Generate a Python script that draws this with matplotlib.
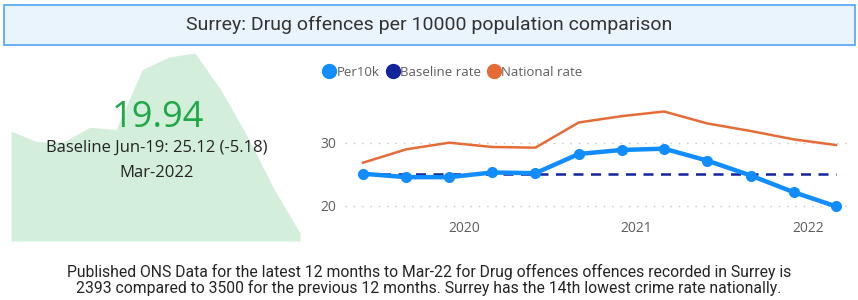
import numpy as np
import pandas as pd
from matplotlib import pyplot as plt
import matplotlib.dates as mdates
from matplotlib.patches import Rectangle
from matplotlib.lines import Line2D

# quarterly figures, Jun-19 .. Mar-22
dates = pd.date_range('2019-06-01', '2022-03-01', freq='3MS')
per10k = [25.12, 24.58, 24.58, 25.32, 25.21, 28.26, 28.89, 29.10, 27.20, 24.84, 22.20, 19.94]
national = [26.87, 29.00, 30.05, 29.37, 29.26, 33.26, 34.26, 35.00, 33.10, 31.90, 30.58, 29.68]
baseline = 25.12
year_ticks = ['2020', '2021', '2022']
y_ticks = [20, 30]

title = 'Surrey: Drug offences per 10000 population comparison'
kpi_value = '19.94'
kpi_sub = 'Baseline Jun-19: 25.12 (-5.18)'
kpi_period = 'Mar-2022'
footer = ('Published ONS Data for the latest 12 months to Mar-22 for Drug offences offences recorded in Surrey is\n'
          '2393 compared to 3500 for the previous 12 months. Surrey has the 14th lowest crime rate nationally.')

c_blue = '#118DFF'
c_navy = '#12239E'
c_orange = '#E66C37'
c_grey = '#605E5C'

W, H = 858, 300
fig = plt.figure(figsize=(W / 100, H / 100), dpi=100)


def box(x0, y0, x1, y1):
    # pixel box (top-left origin) -> figure fraction rect
    return [x0 / W, 1 - y1 / H, (x1 - x0) / W, (y1 - y0) / H]


# title bar
fig.patches.append(Rectangle((4 / W, 1 - 45 / H), 851 / W, 40 / H, transform=fig.transFigure,
                             facecolor='#EAF4FD', edgecolor='#4FA3F7', linewidth=1.2))
fig.text(429 / W, 1 - 25 / H, title, ha='center', va='center', fontsize=14,
         family='Roboto', color='#333333')

# left KPI area
ax_k = fig.add_axes(box(11, 53, 300, 241))
ax_k.fill_between(range(len(per10k)), per10k, 19.53, color='#D3EEDA', linewidth=0)
ax_k.set_xlim(0, len(per10k) - 1)
ax_k.set_ylim(19.53, max(per10k))
ax_k.axis('off')

fig.text(158 / W, 1 - 118 / H, kpi_value, ha='center', va='center', fontsize=26,
         family='Open Sans', color='#1FA845')
fig.text(157 / W, 1 - 148 / H, kpi_sub, ha='center', va='center', fontsize=12,
         family='Open Sans', color='#252423')
fig.text(157 / W, 1 - 173 / H, kpi_period, ha='center', va='center', fontsize=12,
         family='Open Sans', color='#252423')

# right line chart
ax = fig.add_axes(box(345, 100, 848, 213))
ax.plot(dates, national, color=c_orange, linewidth=1.8, zorder=2)
ax.plot([dates[0], dates[-1]], [baseline, baseline], color=c_navy, linewidth=1.8,
        dashes=(4, 3), zorder=3)
ax.plot(dates, per10k, color=c_blue, linewidth=3.2, marker='o', markersize=7, zorder=4)

d0, d1 = mdates.date2num(dates[0]), mdates.date2num(dates[-1])
dpp = (d1 - d0) / (836 - 363)
ax.set_xlim(d0 - 18 * dpp, d1 + 12 * dpp)
ax.set_ylim(20 - 7 * 10 / 63, 20 + 106 * 10 / 63)

ax.set_yticks(y_ticks)
ax.set_xticks([mdates.date2num(pd.Timestamp(y + '-01-01')) for y in year_ticks])
ax.set_xticklabels(year_ticks)
ax.tick_params(length=0, labelsize=10, labelcolor=c_grey, pad=6)
for lab in ax.get_xticklabels() + ax.get_yticklabels():
    lab.set_family('Open Sans')
ax.grid(axis='y', color='#C8C6C4', linestyle=(0, (1, 5)), linewidth=1)
for s in ax.spines.values():
    s.set_visible(False)
ax.set_facecolor('none')

# legend
handles = [Line2D([], [], marker='o', linestyle='', markersize=10, color=c) for c in (c_blue, c_navy, c_orange)]
fig.legend(handles, ['Per10k', 'Baseline rate', 'National rate'], loc='center left',
           bbox_to_anchor=(316 / W, 1 - 72 / H), ncol=3, frameon=False, handletextpad=0.05,
           columnspacing=0.5, borderpad=0, handlelength=1.0,
           prop={'family': 'Open Sans', 'size': 9.5}, labelcolor=c_grey)

fig.text(429 / W, 1 - 280 / H, footer, ha='center', va='center', fontsize=11.3,
         family='Roboto', color='#252423', linespacing=1.05)

fig.savefig('out.png', dpi=100)
